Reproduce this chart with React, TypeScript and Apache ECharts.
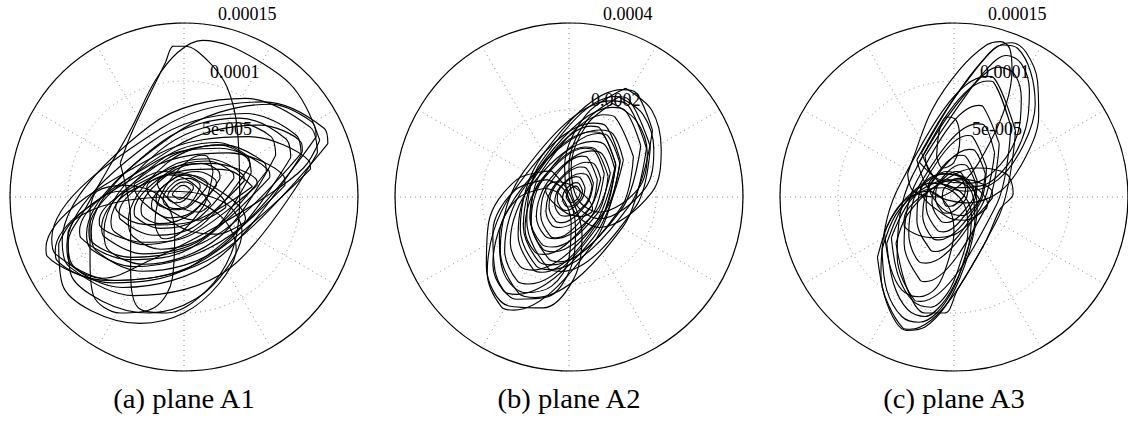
import { useEffect, useRef } from 'react';
import * as echarts from 'echarts';

// Trajectory loops, flat [x, y, x, y, ...] lists, in units of 1e-6
const a1Loops: number[][] = [
  [124, 46, 121, 59, 69, 82, -20, 59, -114, -36, -111, -49, -59, -72, 30, -49],
  [109, 24, 108, 31, 56, 52, -22, 37, -119, -44, -118, -51, -66, -72, 12, -57],
  [101, 36, 97, 53, 53, 72, -29, 47, -101, -42, -97, -59, -53, -78, 29, -53],
  [87, 10, 86, 18, 38, 38, -28, 25, -111, -46, -110, -54, -62, -74, 4, -61],
  [92, 34, 88, 50, 48, 68, -20, 47, -80, -30, -76, -46, -36, -64, 32, -43],
  [74, 17, 73, 23, 31, 42, -22, 32, -90, -29, -89, -35, -47, -54, 6, -44],
  [71, 22, 69, 30, 35, 45, -16, 32, -71, -26, -69, -34, -35, -49, 16, -36],
  [57, 27, 54, 36, 29, 47, -20, 32, -63, -21, -60, -30, -35, -41, 13, -26],
  [52, 14, 51, 19, 21, 33, -12, 26, -56, -14, -55, -19, -25, -33, 8, -26],
  [43, 16, 42, 21, 20, 31, -10, 24, -43, -12, -42, -17, -20, -27, 10, -20],
  [31, 16, 30, 22, 15, 29, -13, 20, -37, -10, -36, -16, -21, -23, 7, -14],
  [28, 10, 27, 15, 12, 22, -7, 17, -28, -6, -27, -11, -12, -18, 7, -13],
  [20, 9, 20, 12, 5, 19, -7, 17, -24, -1, -24, -4, -9, -11, 3, -9],
  [14, 8, 13, 12, 4, 16, -8, 13, -18, -2, -17, -6, -8, -10, 4, -7],
  [8, 7, 8, 9, 1, 13, -6, 11, -14, 1, -14, -1, -7, -5, 0, -3],
  [6, 6, 5, 7, 0, 10, -4, 9, -10, 2, -9, 1, -4, -2, 0, 0],
  [52, -22, 53, -19, 13, 16, -19, 22, -42, 12, -43, 9, -3, -26, 29, -32],
  [36, -9, 36, -7, 7, 17, -10, 20, -32, 9, -32, 7, -3, -17, 14, -20],
  [25, 22, 20, 35, 15, 36, -16, 9, -25, -22, -20, -35, -15, -36, 16, -9],
  [23, -6, 6, 13, -13, 19, -23, 12, -6, -7, 13, -13],
  [-55, 29, -44, 58, -16, 116, -9, 130, 1, 130, 20, 118, 37, 95, 46, 58, 48, 0, 42, -45, 20, -80, -15, -100, -40, -95, -46, -60, -46, -20],
  [117, 49, 105, 78, 91, 98, 68, 115, 40, 130, 16, 135, -5, 125, -25, 100, -45, 60, -65, 25, -85, -10, -100, -40, -95, -60, -70, -70, -30, -55, 20, -30, 70, 0, 103, 25],
  [-108, -40, -105, -75, -80, -98, -38, -109, 0, -100, 30, -75, 45, -45, 30, -15, -10, 0, -60, -5, -95, -20],
  [-81, -10, -81, -55, -78, -85, -55, -100, -25, -95, -10, -70, -8, -30, -20, 0, -50, 10, -75, 5],
  [-100, -30, -98, -65, -70, -90, -30, -100, 10, -88, 38, -60, 50, -30, 35, -5, -10, 5, -55, 5, -90, -15],
  [58, 21, 54, 34, 30, 45, -15, 29, -48, -21, -44, -34, -20, -45, 25, -29],
  [63, 10, 63, 13, 24, 29, -13, 24, -73, -20, -73, -23, -34, -39, 3, -34],
  [115, 38, 109, 60, 53, 85, -30, 61, -105, -38, -99, -60, -43, -85, 40, -61],
  [102, 39, 101, 47, 65, 62, -8, 43, -82, -29, -81, -37, -45, -52, 28, -33],
  [79, 36, 75, 52, 45, 64, -21, 40, -69, -30, -65, -46, -35, -58, 31, -34],
  [114, 52, 110, 65, 74, 80, -10, 53, -84, -32, -80, -45, -44, -60, 40, -33],
  [59, 9, 39, 23, 22, 24, -4, 22, -59, -9, -39, -23, -22, -24, 4, -22],
];

const a2Loops: number[][] = [
  [192, 153, 155, 239, 123, 247, -60, 98, -112, -73, -75, -159, -43, -167, 140, -18],
  [118, 84, 85, 163, 57, 170, -130, 10, -188, -174, -155, -253, -127, -260, 60, -100],
  [187, 116, 136, 225, 106, 231, -64, 81, -97, -56, -46, -165, -16, -171, 154, -21],
  [125, 85, 101, 145, 70, 154, -107, 22, -175, -155, -151, -215, -120, -224, 57, -92],
  [165, 118, 130, 198, 99, 206, -61, 78, -105, -68, -70, -148, -39, -156, 121, -28],
  [108, 73, 78, 144, 52, 150, -102, 23, -148, -123, -118, -194, -92, -200, 62, -73],
  [148, 93, 106, 183, 81, 189, -61, 62, -88, -53, -46, -143, -21, -149, 121, -22],
  [105, 65, 83, 119, 54, 128, -85, 29, -135, -105, -113, -159, -84, -168, 55, -69],
  [117, 78, 90, 140, 66, 146, -54, 50, -87, -58, -60, -120, -36, -126, 84, -30],
  [81, 54, 58, 107, 37, 112, -71, 25, -101, -74, -78, -127, -57, -132, 51, -45],
  [95, 55, 76, 99, 52, 106, -43, 42, -75, -45, -56, -89, -32, -96, 63, -32],
  [65, 41, 42, 91, 29, 94, -50, 23, -65, -41, -42, -91, -29, -94, 50, -23],
  [73, 42, 59, 75, 41, 80, -29, 33, -53, -32, -39, -65, -21, -70, 49, -23],
  [56, 32, 40, 66, 26, 69, -31, 26, -46, -22, -30, -56, -16, -59, 41, -16],
  [53, 25, 42, 50, 27, 54, -19, 25, -33, -15, -22, -40, -7, -44, 39, -15],
  [37, 21, 26, 44, 16, 47, -19, 22, -27, -5, -16, -28, -6, -31, 29, -6],
  [31, 15, 23, 31, 16, 33, -9, 15, -15, -5, -7, -21, 0, -23, 25, -5],
  [26, 12, 20, 23, 15, 25, -2, 13, -6, 0, 0, -11, 5, -13, 22, -1],
  [52, -35, 54, -27, 15, 21, -29, 35, -52, 25, -54, 17, -15, -31, 29, -45],
  [130, 250, 190, 200, 212, 110, 190, 10, 70, -70, 10, -30, -10, 70, 40, 190],
  [115, 230, 170, 190, 195, 110, 175, 20, 70, -50, 15, -15, 0, 70, 40, 175],
  [100, 215, 155, 175, 180, 100, 160, 20, 70, -35, 20, -5, 5, 70, 40, 165],
  [-40, 60, -120, 40, -185, -60, -190, -160, -140, -250, -60, -255, 10, -190, 30, -90, 0, 10],
  [-50, 40, -125, 15, -175, -80, -170, -170, -120, -235, -50, -230, 5, -160, 15, -70, -10, 15],
  [-55, 20, -120, -5, -160, -90, -150, -175, -100, -220, -40, -205, 0, -140, 5, -60, -20, 5],
  [178, 112, 135, 212, 97, 221, -103, 60, -158, -122, -115, -222, -77, -231, 123, -70],
  [107, 78, 71, 158, 51, 163, -87, 33, -117, -88, -81, -168, -61, -173, 77, -43],
  [90, 48, 63, 108, 38, 115, -65, 38, -90, -48, -63, -108, -38, -115, 65, -38],
];

const a3Loops: number[][] = [
  [-32, 32, -10, 70, 15, 105, 35, 128, 50, 133, 62, 125, 72, 100, 73, 70, 62, 35, 40, 5, 10, -5, -20, 5],
  [-28, 38, 0, 85, 25, 118, 42, 131, 55, 128, 66, 108, 70, 80, 60, 45, 38, 15, 10, 5, -15, 15],
  [-25, 35, 5, 80, 28, 110, 45, 122, 58, 115, 65, 92, 62, 60, 48, 30, 25, 10, 0, 8, -20, 20],
  [-30, 30, -5, 70, 20, 100, 38, 112, 52, 106, 58, 85, 55, 55, 40, 28, 15, 12, -10, 14],
  [-40, 20, -35, 34, -19, 75, 5, 110, 28, 131, 40, 134, 48, 128, 50, 110, 45, 80, 30, 45, 10, 15, -15, 0, -35, 5],
  [-15, 35, -12, 60, -6, 69, 2, 66, 5, 50, 0, 30, -10, 25],
  [-66, -52, -60, -85, -50, -108, -41, -115, -25, -112, -8, -95, 5, -70, 15, -40, 20, -10, 12, 15, -10, 20, -35, 5, -55, -20],
  [-62, -45, -58, -80, -45, -103, -30, -108, -15, -100, 0, -78, 10, -50, 18, -20, 15, 5, -5, 15, -30, 5, -50, -15],
  [-58, -40, -52, -75, -40, -97, -25, -103, -10, -92, 3, -70, 12, -45, 15, -15, 5, 5, -20, 12, -42, -5],
  [-54, -35, -48, -68, -35, -90, -20, -95, -5, -82, 5, -58, 12, -30, 8, -5, -10, 8, -35, 0],
  [-60, -30, -55, -60, -45, -80, -30, -86, -15, -78, -5, -55, 0, -30, -5, -8, -22, 5, -45, -5],
  [-50, -40, -40, -80, -25, -100, -8, -100, 3, -80, 15, -60, 28, -37, 40, -10, 51, 3, 45, 20, 20, 25, -15, 10, -40, -15],
  [39, 46, 25, 78, 21, 79, -32, 14, -43, -40, -29, -72, -25, -73, 28, -8],
  [35, 38, 26, 62, 20, 63, -27, 15, -39, -32, -30, -56, -24, -57, 23, -9],
  [28, 26, 16, 52, 12, 53, -26, 12, -32, -20, -20, -46, -16, -47, 22, -6],
  [27, 20, 18, 40, 13, 41, -20, 11, -27, -16, -18, -36, -13, -37, 20, -7],
  [20, 14, 10, 35, 5, 36, -21, 10, -24, -8, -14, -29, -9, -30, 17, -4],
  [19, 11, 11, 27, 6, 28, -15, 10, -19, -5, -11, -21, -6, -22, 15, -4],
  [12, 9, 6, 21, 2, 22, -14, 10, -16, -1, -10, -13, -6, -14, 10, -2],
  [10, 7, 6, 16, 3, 16, -8, 8, -10, 1, -6, -8, -3, -8, 8, 0],
  [28, -10, 29, -6, 6, 17, -9, 20, -28, 10, -29, 6, -6, -17, 9, -20],
  [33, -1, 33, 4, 10, 15, -13, 11, -43, -19, -43, -24, -20, -35, 3, -31],
  [49, 61, 34, 99, 29, 100, -36, 18, -49, -51, -34, -89, -29, -90, 36, -8],
  [53, 57, 34, 103, 28, 104, -47, 10, -63, -67, -44, -113, -38, -114, 37, -20],
  [22, -2, 8, 16, -6, 22, -22, 10, -10, -10, 8, -16],
];

const dataUnit = 1e-6;

const a1RadiusMax = 0.00015;
const a1RadiusStep = 0.00005;
const a1TickLabels = ['5e-005', '0.0001', '0.00015'];

const a2RadiusMax = 0.0004;
const a2RadiusStep = 0.0002;
const a2TickLabels = ['0.0002', '0.0004'];

const a3RadiusMax = 0.00015;
const a3RadiusStep = 0.00005;
const a3TickLabels = ['5e-005', '0.0001', '0.00015'];

const captions = ['(a) plane A1', '(b) plane A2', '(c) plane A3'];

const FONT = '"Liberation Serif", "Times New Roman", Times, serif';

function toPolar(loop: number[]): [number, number][] {
  const pts: [number, number][] = [];
  for (let i = 0; i + 1 < loop.length; i += 2) {
    const x = loop[i] * dataUnit;
    const y = loop[i + 1] * dataUnit;
    let ang = (Math.atan2(y, x) * 180) / Math.PI;
    if (ang < 0) ang += 360;
    pts.push([Math.hypot(x, y), ang]);
  }
  pts.push(pts[0]);
  return pts;
}

export default function App() {
  const ref = useRef<HTMLDivElement>(null);

  useEffect(() => {
    if (!ref.current) return;
    const chart = echarts.init(ref.current, undefined, { renderer: 'svg' });

    const panels = [
      { loops: a1Loops, max: a1RadiusMax, step: a1RadiusStep, labels: a1TickLabels, cx: 184 },
      { loops: a2Loops, max: a2RadiusMax, step: a2RadiusStep, labels: a2TickLabels, cx: 569 },
      { loops: a3Loops, max: a3RadiusMax, step: a3RadiusStep, labels: a3TickLabels, cx: 954 },
    ];
    const cy = 197;
    const R = 174;
    const dotted = { color: '#8a8a8a', type: [1, 4] as any, width: 1 };

    const polar: any[] = [];
    const angleAxis: any[] = [];
    const radiusAxis: any[] = [];
    const series: any[] = [];
    const graphic: any[] = [];

    panels.forEach((p, i) => {
      const main = 2 * i;
      const lab = 2 * i + 1;
      polar.push({ center: [p.cx, cy], radius: R });
      polar.push({ center: [p.cx, cy], radius: R });

      angleAxis.push({
        polarIndex: main,
        type: 'value',
        min: 0,
        max: 360,
        interval: 30,
        startAngle: 0,
        clockwise: false,
        axisLine: { show: true, lineStyle: { color: '#000', width: 1.2 } },
        axisTick: { show: false },
        axisLabel: { show: false },
        splitLine: { show: true, lineStyle: dotted },
        z: 1,
      });
      angleAxis.push({
        polarIndex: lab,
        type: 'value',
        min: 0,
        max: 360,
        startAngle: 82,
        clockwise: false,
        show: false,
      });

      radiusAxis.push({
        polarIndex: main,
        type: 'value',
        min: 0,
        max: p.max,
        interval: p.step,
        axisLine: { show: false },
        axisTick: { show: false },
        axisLabel: { show: false },
        splitLine: { show: true, lineStyle: dotted },
        z: 1,
      });
      radiusAxis.push({
        polarIndex: lab,
        type: 'value',
        min: 0,
        max: p.max,
        interval: p.step,
        axisLine: { show: false },
        axisTick: { show: false },
        splitLine: { show: false },
        axisLabel: {
          show: true,
          margin: -10,
          align: 'left',
          verticalAlign: 'bottom',
          padding: [0, 0, 3, 0],
          color: '#000',
          fontSize: 18,
          fontFamily: FONT,
          showMinLabel: false,
          formatter: (v: number) => {
            const k = Math.round(v / p.step);
            return k > 0 && k <= p.labels.length ? p.labels[k - 1] : '';
          },
        },
        z: 1,
      });

      p.loops.forEach((loop) => {
        series.push({
          type: 'line',
          coordinateSystem: 'polar',
          polarIndex: main,
          data: toPolar(loop),
          symbol: 'none',
          showSymbol: false,
          smooth: 0.35,
          silent: true,
          lineStyle: { color: '#000', width: 1.15 },
          z: 3,
        });
      });

      graphic.push({
        type: 'text',
        x: p.cx,
        y: 399,
        scaleX: 1.06,
        style: {
          text: captions[i],
          fontSize: 27,
          fontFamily: FONT,
          fill: '#000',
          align: 'center',
          verticalAlign: 'middle',
        },
      });
    });

    chart.setOption({
      animation: false,
      backgroundColor: '#fff',
      polar,
      angleAxis,
      radiusAxis,
      series,
      graphic,
    });

    return () => chart.dispose();
  }, []);

  return (
    <div
      ref={ref}
      style={{ position: 'fixed', left: 0, top: 0, width: 1128, height: 421, background: '#fff' }}
    />
  );
}
